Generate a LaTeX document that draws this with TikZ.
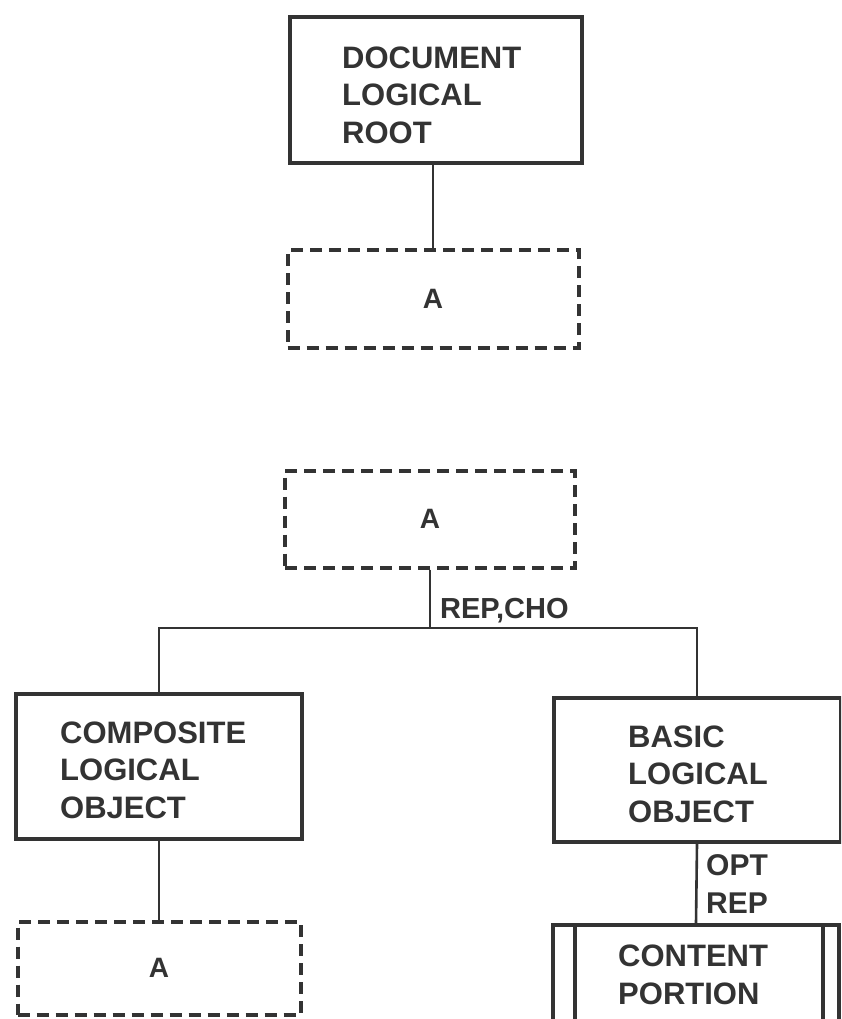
\documentclass[tikz,border=0pt]{standalone}
\usepackage{fontspec}
\setmainfont{Liberation Sans}
\definecolor{ink}{gray}{0.2}
\begin{document}
\begin{tikzpicture}[x={(1pt,0)}, y={(0,-1pt)},
  every node/.style={text=ink, inner sep=0pt},
  solidbox/.style={draw=ink, line width=4pt, rectangle},
  dashbox/.style={draw=ink, line width=4pt, rectangle, dash pattern=on 12pt off 7pt, font=\bfseries\fontsize{28}{30}\selectfont},
  lbl/.style={anchor=west, align=left, font=\bfseries\fontsize{31}{37.5}\selectfont},
  conn/.style={draw=ink, line width=2.6pt}
]
\useasboundingbox (0,0) rectangle (841,1019);
\clip (0,0) rectangle (841,1019);
% top part
\node[solidbox, minimum width=292pt, minimum height=146pt] (root) at (436,90) {};
\node[lbl] (rootT) at (342,95) {DOCUMENT\\LOGICAL\\ROOT};
\node[dashbox, minimum width=291pt, minimum height=98pt] (A1) at (433,299) {A};
\draw[conn] (A1.north) -- (A1.north |- root.south);
% second part
\node[dashbox, minimum width=290pt, minimum height=97pt] (A2) at (430,519) {A};
\coordinate (bar) at (430,628);
\node[solidbox, minimum width=286pt, minimum height=145pt] (comp) at (159,766) {};
\node[lbl] (compT) at (60,770) {COMPOSITE\\LOGICAL\\OBJECT};
\node[solidbox, minimum width=287pt, minimum height=144pt] (basic) at (697,770) {};
\node[lbl] (basicT) at (628,774) {BASIC\\LOGICAL\\OBJECT};
\draw[conn] (A2.south) -- (bar);
\draw[conn] (comp.north) -- (comp.north |- bar) -- (basic.north |- bar) -- (basic.north);
\node[lbl, font=\bfseries\fontsize{29}{34}\selectfont] (repcho) at (440,611) {REP,CHO};
% bottom left
\node[dashbox, minimum width=283pt, minimum height=93pt] (A3) at (159,968) {A};
\draw[conn] (comp.south) -- (A3.north);
% bottom right
\node[solidbox, minimum width=286pt, minimum height=120pt] (content) at (696,985) {};
\draw[ink, line width=3.5pt] (575,925) -- (575,1045);
\draw[ink, line width=3.5pt] (823,925) -- (823,1045);
\node[lbl] (contentT) at (618,975) {CONTENT\\PORTION};
\draw[conn] (basic.south) -- (content.north);
\node[lbl, font=\bfseries\fontsize{30}{38}\selectfont] (optrep) at (706,884) {OPT\\REP};
\end{tikzpicture}
\end{document}
